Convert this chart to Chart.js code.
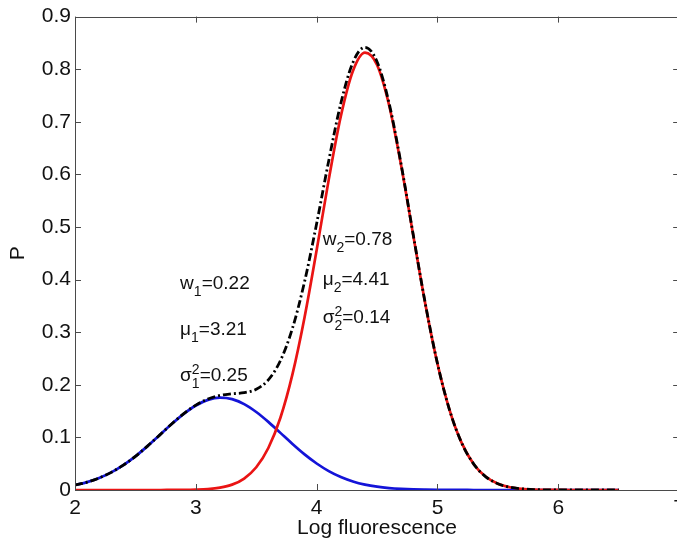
<!DOCTYPE html>
<html>
<head>
<meta charset="utf-8">
<script src="https://cdn.jsdelivr.net/npm/chart.js@4.4.1/dist/chart.umd.min.js"></script>
<style>
  html, body { margin: 0; padding: 0; background: #fff; overflow: hidden; }
  canvas { display: block; }
</style>
</head>
<body>
<canvas id="c" width="691" height="546"></canvas>
<script>
// ---- data ----
const xValues = [2.0,2.1,2.2,2.3,2.4,2.5,2.6,2.7,2.8,2.9,3.0,3.1,3.2,3.3,3.4,3.5,3.6,3.7,3.8,3.9,4.0,4.1,4.2,4.3,4.4,4.5,4.6,4.7,4.8,4.9,5.0,5.1,5.2,5.3,5.4,5.5,5.6,5.7,5.8,5.9,6.0,6.1,6.2,6.3,6.4,6.5];
const component1 = [0.0094,0.0149,0.0228,0.0335,0.0473,0.0640,0.0834,0.1043,0.1254,0.1448,0.1607,0.1713,0.1755,0.1727,0.1633,0.1483,0.1295,0.1086,0.0875,0.0677,0.0504,0.0360,0.0247,0.0163,0.0103,0.0063,0.0037,0.0021,0.0011,0.0006,0.0003,0.0001,0.0001,0,0,0,0,0,0,0,0,0,0,0,0,0];
const component2 = [0,0,0,0,0,0,0,0,0.0001,0.0002,0.0007,0.0018,0.0045,0.0102,0.0218,0.0432,0.0799,0.1374,0.2202,0.3285,0.4563,0.5901,0.7105,0.7965,0.8314,0.8080,0.7311,0.6159,0.4831,0.3528,0.2399,0.1519,0.0895,0.0491,0.0251,0.0119,0.0053,0.0022,0.0008,0.0003,0.0001,0,0,0,0,0];
const mixture = [0.0094,0.0149,0.0228,0.0335,0.0473,0.0640,0.0834,0.1043,0.1255,0.1451,0.1614,0.1731,0.1799,0.1829,0.1850,0.1915,0.2093,0.2460,0.3077,0.3962,0.5067,0.6261,0.7352,0.8128,0.8417,0.8143,0.7348,0.6180,0.4842,0.3534,0.2402,0.1520,0.0896,0.0492,0.0251,0.0119,0.0053,0.0022,0.0008,0.0003,0.0001,0,0,0,0,0];
const xTickLabels = ['2','3','4','5','6','7'];
const yTickLabels = ['0','0.1','0.2','0.3','0.4','0.5','0.6','0.7','0.8','0.9'];
const xTitle = 'Log fluorescence';
const yTitle = 'P';
// annotation texts: [symbol, subscript, superscript, value]
const annotationTexts = [
  ['w','1','','=0.22'],
  ['μ','1','','=3.21'],
  ['σ','1','2','=0.25'],
  ['w','2','','=0.78'],
  ['μ','2','','=4.41'],
  ['σ','2','2','=0.14']
];
// anchors (data coordinates) of the annotations
const annotationX = [2.87, 2.87, 2.87, 4.05, 4.05, 4.05];
const annotationY = [0.383, 0.294, 0.208, 0.466, 0.389, 0.317];

const FONT = '"Liberation Sans", Arial, Helvetica, sans-serif';

const pts = arr => xValues.map((x, i) => ({x: x, y: arr[i]}));

const framePlugin = {
  id: 'frame',
  afterDatasetsDraw(chart) {
    const {ctx, chartArea: a, scales} = chart;
    ctx.save();
    ctx.strokeStyle = '#4a4a4a';
    ctx.lineWidth = 1;
    ctx.strokeRect(Math.round(a.left) + 0.5, Math.round(a.top) + 0.5, Math.round(a.right - a.left), Math.round(a.bottom - a.top));
    const tl = 6;
    ctx.beginPath();
    scales.x.ticks.forEach(t => {
      const px = Math.round(scales.x.getPixelForValue(t.value)) + 0.5;
      ctx.moveTo(px, a.bottom); ctx.lineTo(px, a.bottom - tl);
      ctx.moveTo(px, a.top); ctx.lineTo(px, a.top + tl);
    });
    scales.y.ticks.forEach(t => {
      const py = Math.round(scales.y.getPixelForValue(t.value)) + 0.5;
      ctx.moveTo(a.left, py); ctx.lineTo(a.left + tl, py);
      ctx.moveTo(a.right, py); ctx.lineTo(a.right - tl, py);
    });
    ctx.stroke();
    ctx.restore();
  },
  afterDraw(chart) {
    const {ctx, scales} = chart;
    ctx.save();
    ctx.fillStyle = '#111';
    ctx.textBaseline = 'alphabetic';
    ctx.textAlign = 'left';
    const big = '19px ' + FONT, small = '14px ' + FONT;
    annotationTexts.forEach((t, i) => {
      let x = scales.x.getPixelForValue(annotationX[i]);
      const y = scales.y.getPixelForValue(annotationY[i]);
      ctx.font = big;
      ctx.fillText(t[0], x, y);
      x += ctx.measureText(t[0]).width;
      ctx.font = small;
      let w = 0;
      if (t[1]) { ctx.fillText(t[1], x, y + 7); w = Math.max(w, ctx.measureText(t[1]).width); }
      if (t[2]) { ctx.fillText(t[2], x, y - 7); w = Math.max(w, ctx.measureText(t[2]).width); }
      x += w;
      ctx.font = big;
      ctx.fillText(t[3], x, y);
    });
    ctx.restore();
  }
};

new Chart(document.getElementById('c'), {
  type: 'line',
  data: {
    datasets: [
      { data: pts(component1), borderColor: '#1414d8', borderWidth: 2.7, pointRadius: 0, cubicInterpolationMode: 'monotone', fill: false, order: 3 },
      { data: pts(component2), borderColor: '#ea1414', borderWidth: 2.7, pointRadius: 0, cubicInterpolationMode: 'monotone', fill: false, order: 2 },
      { data: pts(mixture), borderColor: '#000000', borderWidth: 2.8, borderDash: [8, 3, 2, 3], pointRadius: 0, cubicInterpolationMode: 'monotone', fill: false, order: 1 }
    ]
  },
  options: {
    responsive: false,
    animation: false,
    events: [],
    layout: { padding: { top: 12, right: 5, left: 0, bottom: 0 } },
    plugins: { legend: { display: false }, tooltip: { enabled: false } },
    scales: {
      x: {
        type: 'linear', min: 2, max: 7,
        afterFit: s => { s.height = 56; },
        ticks: { stepSize: 1, padding: 6, color: '#111', font: { size: 21, family: FONT },
          callback: (v) => { const i = Math.round(v - 2); return xTickLabels[i] !== undefined ? xTickLabels[i] : ''; } },
        grid: { display: false, drawTicks: false },
        border: { display: false },
        title: { display: true, text: xTitle, color: '#111', font: { size: 21, family: FONT }, padding: { top: 0, bottom: 5 } }
      },
      y: {
        type: 'linear', min: 0, max: 0.9,
        afterFit: s => { s.width = 75; },
        ticks: { stepSize: 0.1, padding: 4, color: '#111', font: { size: 21, family: FONT },
          callback: (v) => { const i = Math.round(v * 10); return yTickLabels[i] !== undefined ? yTickLabels[i] : ''; } },
        grid: { display: false, drawTicks: false },
        border: { display: false },
        title: { display: true, text: yTitle, color: '#111', font: { size: 21, family: FONT }, padding: { top: 6, bottom: 0 } }
      }
    }
  },
  plugins: [framePlugin]
});
</script>
</body>
</html>
